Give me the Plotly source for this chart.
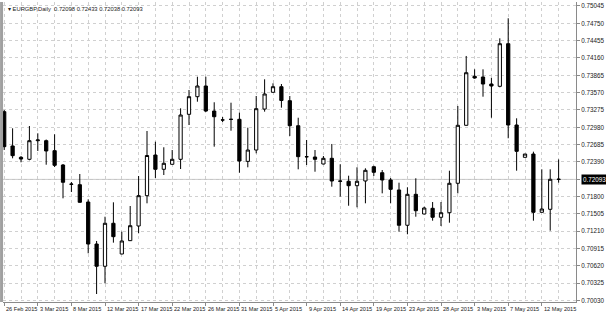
import pandas as pd
import plotly.graph_objects as go

# ---------------- data ----------------
# trading days incl. Sunday bars (MT4 style), 26 Feb 2015 .. 14 May 2015
dates = [d for d in pd.date_range("2015-02-26", "2015-05-14") if d.weekday() != 5]

opens = [0.73246, 0.72662, 0.72469, 0.72435, 0.72752, 0.72752, 0.72582, 0.72338, 0.72014, 0.72003,
         0.71708, 0.70993, 0.70614, 0.71346, 0.70823, 0.71050, 0.71300, 0.71816, 0.72508, 0.72265,
         0.72350, 0.72435, 0.73201, 0.73501, 0.73683, 0.73257, 0.73106, 0.73114, 0.73116, 0.72400,
         0.72593, 0.73290, 0.73576, 0.73671, 0.73433, 0.73007, 0.72480, 0.72474, 0.72355, 0.72452,
         0.72066, 0.72061, 0.71986, 0.72066, 0.72309, 0.72207, 0.72083, 0.71913, 0.71312, 0.71839,
         0.71504, 0.71601, 0.71448, 0.71526, 0.72027, 0.73014, 0.73848, 0.73836, 0.73717, 0.73678,
         0.74403, 0.73019, 0.72469, 0.72525, 0.71533, 0.71584, 0.72098]
highs = [0.73274, 0.72963, 0.72491, 0.73002, 0.72878, 0.72772, 0.72861, 0.72355, 0.72049, 0.72185,
         0.71754, 0.71045, 0.71458, 0.71703, 0.71203, 0.71640, 0.72151, 0.72917, 0.72735, 0.72640,
         0.72593, 0.73303, 0.73615, 0.73841, 0.73841, 0.73406, 0.73155, 0.73399, 0.73229, 0.72973,
         0.73513, 0.73797, 0.73729, 0.73717, 0.73513, 0.73143, 0.72764, 0.72593, 0.72491, 0.72696,
         0.72350, 0.72156, 0.72299, 0.72282, 0.72326, 0.72253, 0.72117, 0.72037, 0.71959, 0.72112,
         0.71628, 0.71708, 0.71708, 0.72241, 0.73343, 0.74194, 0.73967, 0.73967, 0.73824, 0.74495,
         0.74836, 0.73133, 0.72525, 0.72565, 0.72265, 0.72265, 0.72433]
lows = [0.72593, 0.72452, 0.72384, 0.72418, 0.72577, 0.72343, 0.72304, 0.71771, 0.71879, 0.71698,
        0.70835, 0.70142, 0.70324, 0.71016, 0.70820, 0.71045, 0.71176, 0.71686, 0.72117, 0.72168,
        0.72345, 0.72270, 0.73019, 0.73416, 0.73240, 0.72650, 0.73070, 0.72922, 0.72207, 0.72299,
        0.72537, 0.73246, 0.73570, 0.73314, 0.72832, 0.72265, 0.72338, 0.72224, 0.72350, 0.71969,
        0.71799, 0.71645, 0.71618, 0.71686, 0.72151, 0.71856, 0.71686, 0.71203, 0.71159, 0.71458,
        0.71500, 0.71390, 0.71300, 0.71356, 0.71856, 0.73010, 0.73807, 0.73501, 0.73143, 0.73661,
        0.72793, 0.72241, 0.72469, 0.71390, 0.71530, 0.71220, 0.72038]
closes = [0.72650, 0.72497, 0.72440, 0.72752, 0.72764, 0.72577, 0.72333, 0.72044, 0.72010, 0.71703,
          0.70993, 0.70614, 0.71346, 0.71118, 0.71045, 0.71305, 0.71816, 0.72500, 0.72265, 0.72367,
          0.72435, 0.73189, 0.73501, 0.73683, 0.73257, 0.73160, 0.73104, 0.73116, 0.72406, 0.72593,
          0.73297, 0.73547, 0.73671, 0.73436, 0.73007, 0.72480, 0.72478, 0.72435, 0.72452, 0.72066,
          0.72062, 0.71986, 0.72061, 0.72248, 0.72214, 0.72083, 0.71924, 0.71312, 0.71839, 0.71560,
          0.71606, 0.71448, 0.71526, 0.72027, 0.73014, 0.73909, 0.73819, 0.73717, 0.73683, 0.74403,
          0.73019, 0.72571, 0.72525, 0.71533, 0.71589, 0.72095, 0.72093]

y_tick_labels = ["0.70030", "0.70325", "0.70620", "0.70915", "0.71210", "0.71505", "0.71800",
                 "0.72095", "0.72390", "0.72685", "0.72980", "0.73275", "0.73570", "0.73865",
                 "0.74160", "0.74455", "0.74750", "0.75045"]
symbol = "EURGBP,Daily"
x_label_step = 4
grid_step = 2

# ---------------- figure ----------------
W, H = 606, 314
ML, MR, MT, MB = 3, 30, 2, 12
FONT = "Liberation Sans, Arial, sans-serif"
GRID = "#d0d0d0"
AXIS = "#8a8a8a"

xs = list(range(len(dates)))
last_price = closes[-1]

fig = go.Figure(go.Candlestick(
    x=xs, open=opens, high=highs, low=lows, close=closes,
    increasing=dict(line=dict(color="black", width=1), fillcolor="white"),
    decreasing=dict(line=dict(color="black", width=1), fillcolor="black"),
    whiskerwidth=0, hoverinfo="skip", showlegend=False,
))

label_idx = xs[::x_label_step]
y_vals = [float(t) for t in y_tick_labels]
y_text = ["" if abs(v - last_price) < 0.0001 else t for v, t in zip(y_vals, y_tick_labels)]

fig.update_layout(
    width=W, height=H,
    margin=dict(l=ML, r=MR, t=MT, b=MB, pad=0),
    paper_bgcolor="white", plot_bgcolor="white",
    boxgap=0.45,
    font=dict(family=FONT, size=6, color="#222"),
    showlegend=False,
    xaxis=dict(
        range=[-0.143, 68.07], rangeslider=dict(visible=False),
        tickvals=label_idx, showticklabels=False,
        ticks="outside", ticklen=3, tickcolor=AXIS, tickwidth=1,
        showgrid=True, gridcolor=GRID, griddash="dot", gridwidth=1,
        minor=dict(tickvals=xs[::grid_step], showgrid=True, gridcolor=GRID,
                   griddash="dot", gridwidth=1, ticks=""),
        showline=True, linecolor=AXIS, linewidth=1,
        zeroline=False, fixedrange=True,
    ),
    yaxis=dict(
        side="right", range=[0.70006, 0.75113],
        tickvals=y_vals, ticktext=y_text,
        ticks="outside", ticklen=3, tickcolor=AXIS, tickwidth=1,
        tickfont=dict(size=6.3, color="#222", family=FONT),
        showgrid=True, gridcolor=GRID, griddash="dot", gridwidth=1,
        showline=True, linecolor=AXIS, linewidth=1,
        zeroline=False, fixedrange=True,
    ),
)

annotations = []
for i in label_idx:
    annotations.append(dict(
        x=i, xref="x", y=0, yref="paper", yanchor="top", xanchor="left",
        xshift=0, yshift=-1.5, text=dates[i].strftime("%-d %b %Y"), showarrow=False,
        font=dict(size=5.6, color="#222", family=FONT),
    ))
annotations.append(dict(
    x=1, xref="paper", y=last_price, yref="y", xanchor="left", yanchor="middle",
    xshift=5, text=f"{last_price:.5f}", showarrow=False,
    bgcolor="black", borderpad=1, font=dict(size=6.3, color="white", family=FONT),
))
annotations.append(dict(
    x=0, xref="paper", y=1, yref="paper", xanchor="left", yanchor="top",
    xshift=3, yshift=-2,
    text=f"▾ {symbol}  {opens[-1]:.5f} {highs[-1]:.5f} {lows[-1]:.5f} {closes[-1]:.5f}",
    showarrow=False, font=dict(size=5.8, color="#222", family=FONT),
))
fig.update_layout(annotations=annotations)

fig.add_shape(type="line", xref="paper", yref="y", x0=0, x1=1,
              y0=last_price, y1=last_price, line=dict(color="#c0c0c0", width=1), layer="below")
fig.add_shape(type="line", xref="paper", yref="paper", x0=-0.0025, x1=-0.0025,
              y0=0, y1=1, line=dict(color="#a0a0a0", width=3))

fig.write_html("out.html", config=dict(displayModeBar=False))
